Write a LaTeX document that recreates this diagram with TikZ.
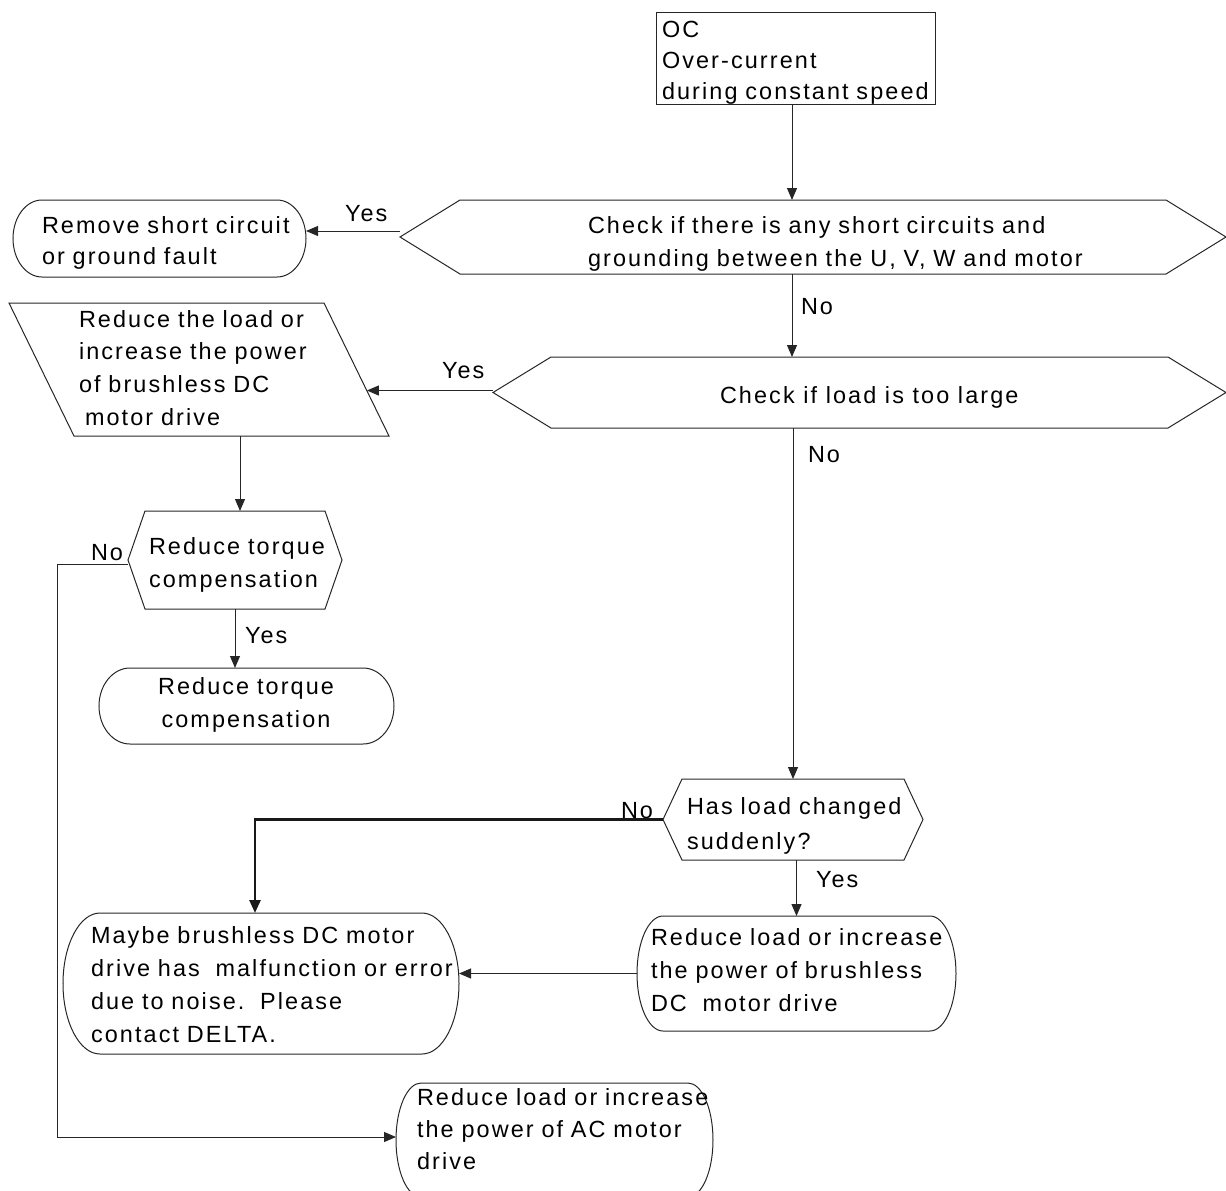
\documentclass[tikz,border=0pt]{standalone}
\usepackage{fontspec}
\setmainfont{Liberation Sans}[LetterSpace=9]
\usetikzlibrary{arrows.meta,calc}
\newcommand\drawhexa[2]{\draw[ln] ([xshift=#2]#1.north west) -- ([xshift=-#2]#1.north east) -- (#1.east) -- ([xshift=-#2]#1.south east) -- ([xshift=#2]#1.south west) -- (#1.west) -- cycle;}
\newcommand\drawstad[3]{\draw[ln] ([xshift=#2]#1.north west) -- ([xshift=-#2]#1.north east) arc[start angle=90,end angle=-90,x radius=#2,y radius=#3] -- ([xshift=#2]#1.south west) arc[start angle=270,end angle=90,x radius=#2,y radius=#3] -- cycle;}
\newcommand\drawparal[2]{\draw[ln] (#1.north west) -- ([xshift=-#2]#1.north east) -- (#1.south east) -- ([xshift=#2]#1.south west) -- cycle;}
\begin{document}
\begin{tikzpicture}[x=1bp,y=-1bp,
  ln/.style={draw=black!85, line width=1bp},
  arr/.style={ln, -{Triangle[length=12bp,width=10bp]}},
  thickarr/.style={draw=black!90, line width=2.6bp, -{Triangle[length=13bp,width=11bp]}},
  shp/.style={draw=none, rectangle, inner sep=0pt, outer sep=0pt},
  txt/.style={inner sep=0pt, outer sep=0pt, align=left, text width=#1, anchor=base west, text=black},
  txt/.default=600bp,
  lbl/.style={inner sep=0pt, outer sep=0pt, anchor=base west, text=black},
  every node/.append style={font=\fontsize{23.5}{33}\selectfont}
]
\useasboundingbox (0,0) rectangle (1226,1191);
% shapes
\node[shp, draw=black!85, line width=1bp, minimum width=279bp, minimum height=92bp] (oc) at (795.5,58) {};
\node[shp, minimum width=826bp, minimum height=74bp] (hex1) at (813,237) {};
\drawhexa{hex1}{60bp}
\node[shp, minimum width=293bp, minimum height=77bp] (remove) at (159.5,238.5) {};
\drawstad{remove}{29bp}{38.5bp}
\node[shp, minimum width=733bp, minimum height=71bp] (hex2) at (859.5,392.5) {};
\drawhexa{hex2}{58bp}
\node[shp, minimum width=380bp, minimum height=133bp] (para) at (199,369.5) {};
\drawparal{para}{65bp}
\node[shp, minimum width=214bp, minimum height=98bp] (smallhex) at (235,560) {};
\drawhexa{smallhex}{17bp}
\node[shp, minimum width=295bp, minimum height=76bp] (torque) at (246.5,706) {};
\drawstad{torque}{31bp}{38bp}
\node[shp, minimum width=260bp, minimum height=81bp] (hasload) at (793,819.5) {};
\drawhexa{hasload}{19bp}
\node[shp, minimum width=319bp, minimum height=115bp] (right) at (796.5,973.5) {};
\drawstad{right}{26bp}{57.5bp}
\node[shp, minimum width=396bp, minimum height=141bp] (maybe) at (261,983.5) {};
\drawstad{maybe}{37bp}{70.5bp}
\node[shp, minimum width=317bp, minimum height=114bp] (bottom) at (554.5,1140) {};
\drawstad{bottom}{25bp}{57bp}
% texts
\node[txt, font=\fontsize{23.5}{31.5}\selectfont] (oc-t) at (662,37) {OC\\Over-current\\during constant speed};
\node[txt, font=\fontsize{23.5}{34}\selectfont] (hex1-t) at (588,233) {Check if there is any short circuits and\\grounding between the U, V, W and motor};
\node[txt, font=\fontsize{23.5}{32}\selectfont] (remove-t) at (42,233) {Remove short circuit\\or ground fault};
\node[lbl] (hex2-t) at (720,403) {Check if load is too large};
\node[txt] (para-t) at (79,327) {Reduce the load or\\increase the power\\of brushless DC\\\hspace*{6bp}motor drive};
\node[txt, font=\fontsize{23.5}{34}\selectfont] (smallhex-t) at (149,554) {Reduce torque\\compensation};
\node[inner sep=0pt, outer sep=0pt, align=center, text width=280bp, anchor=base, font=\fontsize{23.5}{34}\selectfont] (torque-t) at (246,694) {Reduce torque\\compensation};
\node[txt, font=\fontsize{23.5}{36}\selectfont] (hasload-t) at (687,814) {Has load changed\\suddenly?};
\node[txt, font=\fontsize{23.5}{33.5}\selectfont] (right-t) at (651,945) {Reduce load or increase\\the power of brushless\\DC\ \ motor drive};
\node[txt, font=\fontsize{23.5}{33.3}\selectfont] (maybe-t) at (91,943) {Maybe brushless DC motor\\drive has\ \ malfunction or error\\due to noise.\ \ Please\\contact DELTA.};
\node[txt, font=\fontsize{23.5}{32.5}\selectfont] (bottom-t) at (417,1105) {Reduce load or increase\\the power of AC motor\\drive};
% labels
\node[lbl] (yes1) at (345,221) {Yes};
\node[lbl] (no1) at (801,314) {No};
\node[lbl] (yes2) at (442,378) {Yes};
\node[lbl] (no2) at (808,462) {No};
\node[lbl] (no3) at (91,560) {No};
\node[lbl] (yes3) at (245,643) {Yes};
\node[lbl] (no4) at (621,818) {No};
\node[lbl] (yes4) at (816,887) {Yes};
% connectors
\coordinate (spine) at (792,0);
\coordinate (rail) at (57,0);
\coordinate (c240) at (240,0);
\coordinate (paraedge) at ($([xshift=-65bp]para.north east)!0.66!(para.south east)$);
\draw[arr] (oc.south -| spine) -- (hex1.north -| spine);
\draw[arr] ([yshift=6bp]hex1.west) -- ([yshift=6bp]hex1.west -| remove.east);
\draw[arr] (hex1.south -| spine) -- (hex2.north -| spine);
\draw[arr] ([yshift=2bp]hex2.west) -- ([yshift=2bp]hex2.west -| paraedge);
\draw[arr] (para.south -| c240) -- (smallhex.north -| c240);
\draw[arr] (smallhex.south) -- (smallhex.south |- torque.north);
\draw[arr] ([yshift=-4bp]smallhex.west) -- ([yshift=-4bp]smallhex.west -| rail) |- ([yshift=3bp]bottom.west);
\draw[arr] (hex2.south -| hasload.north) -- (hasload.north);
\draw[thickarr] (hasload.west) -| ([xshift=-6bp]maybe.north);
\draw[arr] (hasload.south -| right.north) -- (right.north);
\draw[arr] (right.west) -- (right.west -| maybe.east);
\end{tikzpicture}
\end{document}
